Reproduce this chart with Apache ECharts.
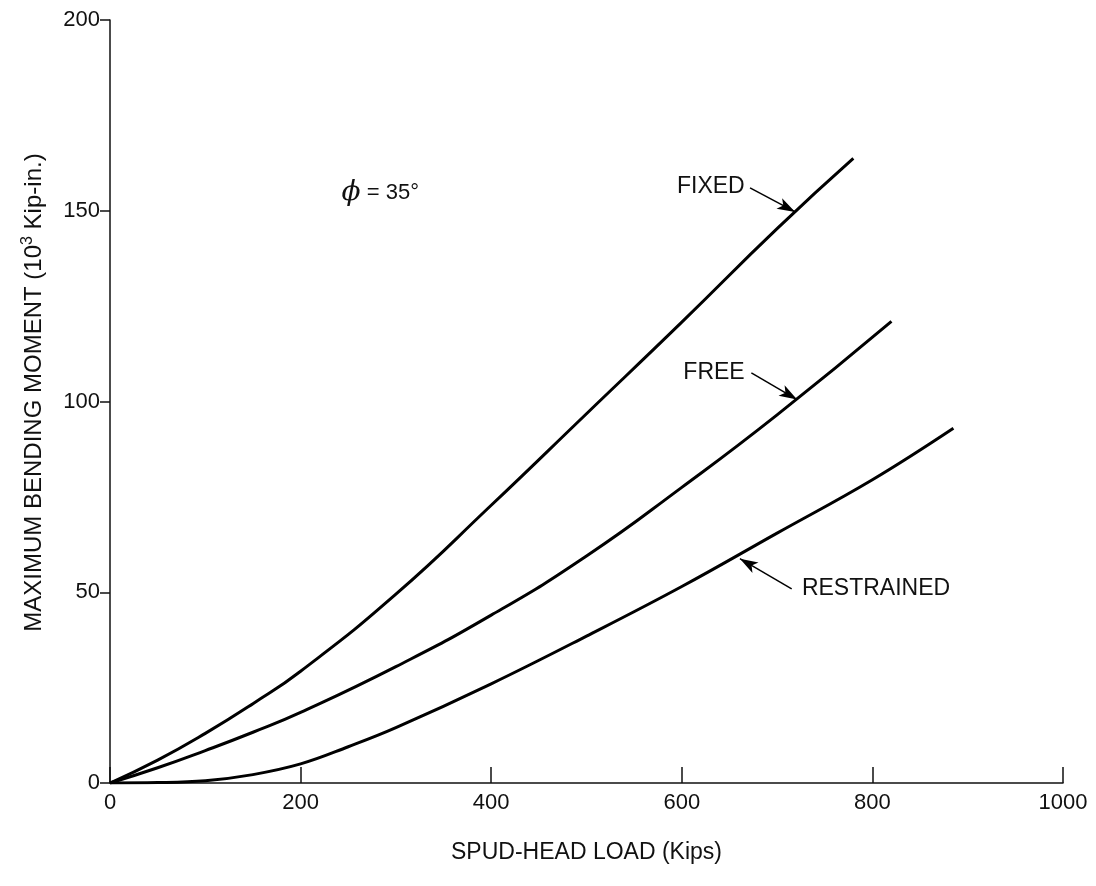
<!DOCTYPE html>
<html>
<head>
<meta charset="utf-8">
<script src="https://cdn.jsdelivr.net/npm/echarts@6/dist/echarts.min.js"></script>
<style>
html,body{margin:0;padding:0;background:#fff;}
#chart{width:1096px;height:886px;}
</style>
</head>
<body>
<div id="chart"></div>
<script>
// ---- data ----
const xTicks = [0, 200, 400, 600, 800, 1000];
const yTicks = [0, 50, 100, 150, 200];

const loadFixed   = [0, 50, 100, 150, 200, 300, 400, 500, 600, 700, 780];
const momentFixed = [0, 6, 13, 20.8, 29.3, 49.5, 72.8, 96.8, 120.8, 145.3, 163.7];

const loadFree    = [0, 50, 100, 150, 200, 300, 400, 500, 600, 700, 820];
const momentFree  = [0, 4, 8.5, 13.3, 18.5, 30.5, 44, 59.5, 77.5, 96.5, 121];

const loadRestr   = [0, 50, 100, 150, 200, 250, 300, 400, 500, 600, 700, 800, 885];
const momentRestr = [0, 0.1, 0.6, 2.2, 5, 9.5, 14.5, 26, 38.5, 51.5, 65.5, 79.5, 93];

// annotation anchors (data units)
const fixedLabel  = {text: 'FIXED', at: [666, 156.3], from: [671.6, 156.0], to: [719, 149.7]};
const freeLabel   = {text: 'FREE', at: [666, 107.5], from: [673, 107.5], to: [721, 100.5]};
const restrLabel  = {text: 'RESTRAINED', at: [726, 50.9], from: [715.3, 50.9], to: [661, 58.8]};
const phiAt = [243, 154.7];

const pairs = (xs, ys) => xs.map((x, i) => [x, ys[i]]);
const FONT = '"Liberation Sans", Arial, Helvetica, sans-serif';
const INK = '#111';

function arrowLine(a) {
  return [{coord: a.from}, {coord: a.to}];
}
function textLabel(coord, text, align, extra) {
  return {coord, label: Object.assign({show: true, formatter: text, position: [0, 0], align, verticalAlign: 'middle',
    fontFamily: FONT, fontSize: 23, color: INK}, extra || {})};
}

const chart = echarts.init(document.getElementById('chart'));
const lineStyle = {color: '#000', width: 3};

const option = {
  backgroundColor: '#fff',
  animation: false,
  grid: {left: 110, right: 33, top: 20, bottom: 103},
  xAxis: {
    type: 'value', min: 0, max: 1000, interval: 200,
    name: 'SPUD-HEAD LOAD (Kips)', nameLocation: 'middle', nameGap: 58,
    nameTextStyle: {fontFamily: FONT, fontSize: 23, color: INK},
    axisLine: {lineStyle: {color: INK, width: 1.5}},
    axisTick: {inside: true, length: 16, lineStyle: {color: INK, width: 1.5}},
    axisLabel: {fontFamily: FONT, fontSize: 22, color: INK, margin: 9,
      formatter: v => xTicks.includes(v) ? String(v) : ''},
    splitLine: {show: false}
  },
  yAxis: {
    type: 'value', min: 0, max: 200, interval: 50,
    name: 'MAXIMUM BENDING MOMENT (10{sup|3} Kip-in.)',
    nameLocation: 'middle', nameGap: 62, nameRotate: 90,
    nameTextStyle: {fontFamily: FONT, fontSize: 24, color: INK, padding: [0, 0, 0, 18],
      rich: {sup: {fontFamily: FONT, fontSize: 16, color: INK, verticalAlign: 'top', padding: [0, 0, 12, 0]}}},
    axisLine: {show: true, lineStyle: {color: INK, width: 1.5}},
    axisTick: {show: true, inside: false, length: 10, lineStyle: {color: INK, width: 1.5}},
    axisLabel: {fontFamily: FONT, fontSize: 22, color: INK, margin: 10,
      formatter: v => yTicks.includes(v) ? String(v) : ''},
    splitLine: {show: false}
  },
  series: [
    {
      name: 'FIXED', type: 'line', smooth: 0.5, symbol: 'none',
      data: pairs(loadFixed, momentFixed), lineStyle,
      markLine: {
        silent: true, symbol: ['none', 'arrow'], symbolSize: [9, 18],
        lineStyle: {color: '#000', width: 1.5, type: 'solid'},
        label: {show: false},
        data: [arrowLine(fixedLabel), arrowLine(freeLabel), arrowLine(restrLabel)]
      },
      markPoint: {
        silent: true,
        symbol: 'circle', symbolSize: 0,
        data: [
          textLabel(fixedLabel.at, fixedLabel.text, 'right'),
          textLabel(freeLabel.at, freeLabel.text, 'right'),
          textLabel(restrLabel.at, restrLabel.text, 'left'),
          textLabel(phiAt, '{phi|ϕ} = 35°', 'left', {fontSize: 22,
            rich: {phi: {fontFamily: '"DejaVu Serif", serif', fontStyle: 'italic', fontSize: 28, color: INK}}})
        ]
      }
    },
    {name: 'FREE', type: 'line', smooth: 0.5, symbol: 'none', data: pairs(loadFree, momentFree), lineStyle},
    {name: 'RESTRAINED', type: 'line', smooth: 0.4, symbol: 'none', data: pairs(loadRestr, momentRestr), lineStyle}
  ]
};
chart.setOption(option);
</script>
</body>
</html>
